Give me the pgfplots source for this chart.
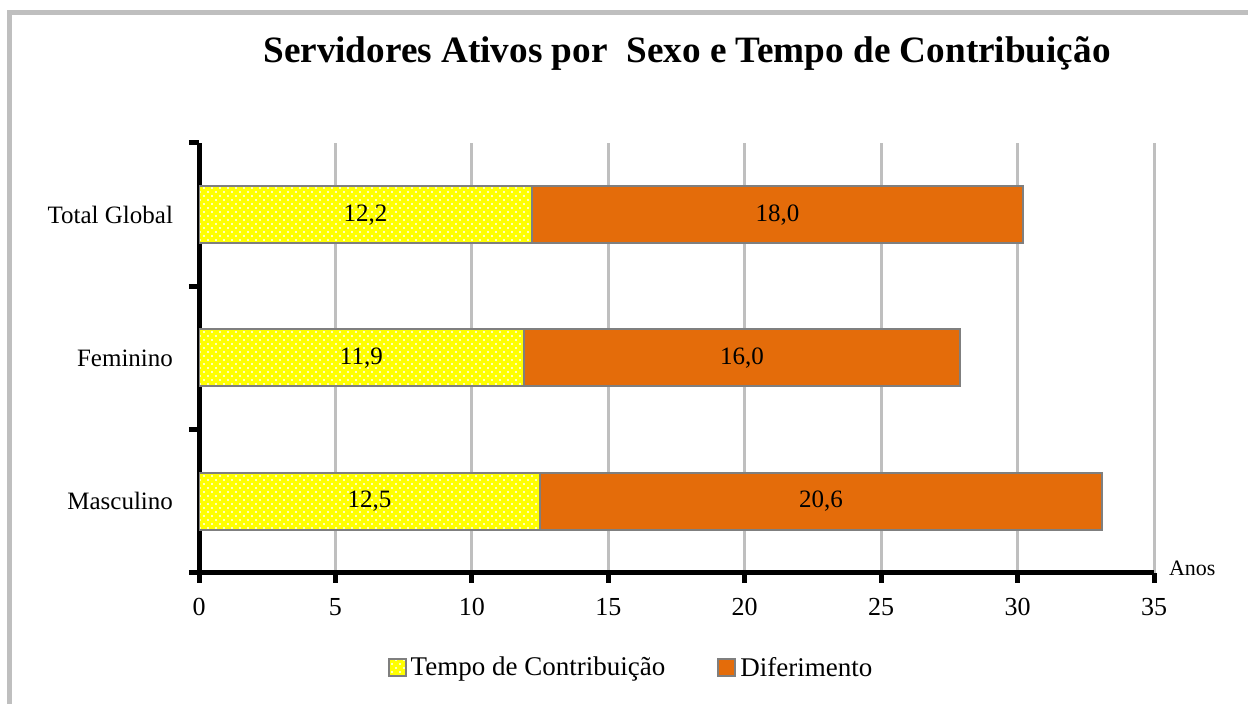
\documentclass[border=0pt]{standalone}
\usepackage{pgfplots}
\pgfplotsset{compat=1.18}
\usepackage{fontspec}
\setmainfont{Liberation Serif}
\usetikzlibrary{patterns}
\definecolor{yel}{HTML}{FFFF00}
\definecolor{ora}{HTML}{E46C0A}
\definecolor{gridg}{HTML}{BFBFBF}
\definecolor{edge}{HTML}{7F7F7F}
\pgfdeclarepatternformonly{mydots}{\pgfqpoint{-1pt}{-1pt}}{\pgfqpoint{3pt}{3pt}}{\pgfqpoint{4pt}{4pt}}{%
  \pgfpathcircle{\pgfqpoint{0pt}{0pt}}{0.55pt}%
  \pgfpathcircle{\pgfqpoint{2pt}{2pt}}{0.55pt}%
  \pgfusepath{fill}}
\begin{document}
\begin{tikzpicture}
\path[use as bounding box] (0,0) rectangle (624pt,352pt);
\draw[gridg, line width=2.5pt] (4.75pt,0) -- (4.75pt,345.5pt) -- (624pt,345.5pt);
\node[font=\fontsize{18.6}{20}\selectfont\bfseries, anchor=base] at (343.5pt,320.5pt) {Servidores Ativos por~ Sexo e Tempo de Contribuição};
\begin{axis}[
  at={(99.5pt,65.5pt)}, anchor=south west,
  scale only axis, width=477.5pt, height=215pt,
  xbar stacked, bar width=28.5pt,
  xmin=0, xmax=35, ymin=-0.5, ymax=2.5,
  xtick={0,5,...,35},
  ytick={-0.5,0.5,1.5,2.5}, yticklabels={},
  extra y ticks={0,1,2},
  extra y tick labels={Masculino,Feminino,Total Global},
  extra y tick style={tick style={draw=none}, yticklabel style={xshift=-4.5pt}},
  axis x line*=bottom, axis y line*=left,
  axis line style={line width=2.5pt, black},
  xmajorgrids, grid style={gridg, line width=1.5pt},
  tick align=outside,
  major tick length=5pt,
  tick style={black, line width=2.5pt},
  yticklabel style={font=\fontsize{12.5}{14}\selectfont},
  xticklabel style={font=\fontsize{13}{14}\selectfont, yshift=-4pt},
  /pgf/number format/assume math mode=true,
  xlabel={Anos},
  xlabel style={at={(axis description cs:1,0)}, anchor=base west, xshift=4pt, yshift=-1.5pt, font=\fontsize{11}{12}\selectfont},
  legend style={at={(0.4534,-0.221)}, anchor=center, draw=none, legend columns=2,
    font=\fontsize{13.5}{15}\selectfont,
    /tikz/every even column/.append style={column sep=24pt}},
  legend image code/.code={\draw[#1] (0pt,-4pt) rectangle (8.5pt,4.5pt);},
]
\addplot[fill=yel, draw=edge, line width=1pt, postaction={pattern=mydots, pattern color=white}] coordinates {(12.5,0) (11.9,1) (12.2,2)};
\addplot[fill=ora, draw=edge, line width=1pt] coordinates {(20.6,0) (16.0,1) (18.0,2)};
\legend{Tempo de Contribuição, Diferimento}
\coordinate (m1) at (axis cs:6.25,0);
\coordinate (m2) at (axis cs:22.8,0);
\coordinate (f1) at (axis cs:5.95,1);
\coordinate (f2) at (axis cs:19.9,1);
\coordinate (t1) at (axis cs:6.1,2);
\coordinate (t2) at (axis cs:21.2,2);
\end{axis}
\begin{scope}[every node/.style={font=\fontsize{12.5}{14}\selectfont, text=black}]
\node at (m1) {12,5};
\node at (m2) {20,6};
\node at (f1) {11,9};
\node at (f2) {16,0};
\node at (t1) {12,2};
\node at (t2) {18,0};
\end{scope}
\end{tikzpicture}
\end{document}
